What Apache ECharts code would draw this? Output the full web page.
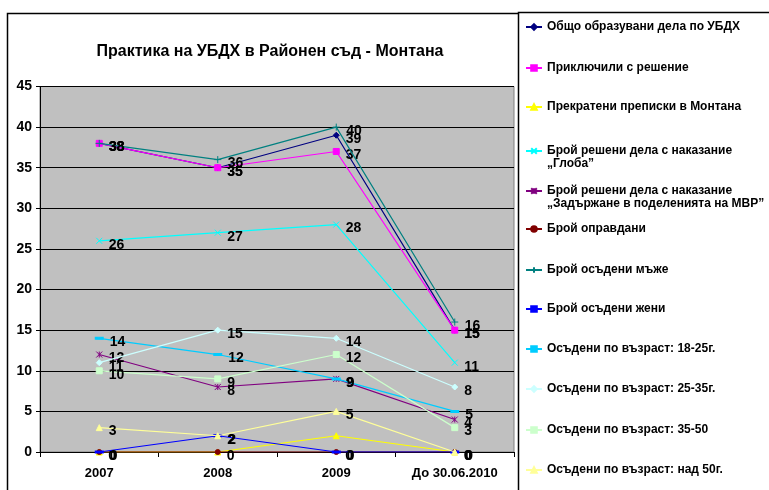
<!DOCTYPE html>
<html>
<head>
<meta charset="utf-8">
<script src="https://cdn.jsdelivr.net/npm/echarts@6/dist/echarts.min.js"></script>
<style>html,body{margin:0;padding:0;background:#fff}#c{width:769px;height:490px}</style>
</head>
<body>
<div id="c"></div>
<script>
const categories = ['2007', '2008', '2009', 'До 30.06.2010'];
const yTicks = [0, 5, 10, 15, 20, 25, 30, 35, 40, 45];
const seriesNames = [
  'Общо образувани дела по УБДХ',
  'Приключили с решение',
  'Прекратени преписки в Монтана',
  'Брой решени дела с наказание\n„Глоба”',
  'Брой решени дела с наказание\n„Задържане в поделенията на МВР”',
  'Брой оправдани',
  'Брой осъдени мъже',
  'Брой осъдени жени',
  'Осъдени по възраст: 18-25г.',
  'Осъдени по възраст: 25-35г.',
  'Осъдени по възраст: 35-50',
  'Осъдени по възраст: над 50г.'
];
const total = [38, 35, 39, 15];
const resolved = [38, 35, 37, 15];
const terminated = [0, 0, 2, 0];
const fined = [26, 27, 28, 11];
const detained = [12, 8, 9, 4];
const acquitted = [0, 0, 0, 0];
const men = [38, 36, 40, 16];
const women = [0, 2, 0, 0];
const age1825 = [14, 12, 9, 5];
const age2535 = [11, 15, 14, 8];
const age3550 = [10, 9, 12, 3];
const age50 = [3, 2, 5, 0];
const seriesValues = [total, resolved, terminated, fined, detained, acquitted, men, women, age1825, age2535, age3550, age50];

const colors = ['#000080', '#FF00FF', '#FFFF00', '#00FFFF', '#800080', '#800000', '#008080', '#0000FF', '#00CCFF', '#CCFFFF', '#CCFFCC', '#FFFF99'];
const symbols = [
  ['diamond', 6], ['rect', 6], ['triangle', 6],
  ['path://M0,0L10,10M10,0L0,10', 6],
  ['path://M0,0L10,10M10,0L0,10M5,0L5,10', 6],
  ['circle', 5],
  ['path://M5,0L5,10M0,5L10,5', 7],
  ['rect', [6, 2]], ['rect', [6, 2]],
  ['diamond', 6], ['rect', 6], ['triangle', 6]
];
const showLabels = [true, true, false, true, true, true, true, true, true, true, true, true];
const legendCenters = [27, 68, 107, 150, 190, 229, 270, 309, 349, 389, 430, 470];

const font = 'Liberation Sans, Arial, sans-serif';

const series = seriesNames.map((name, i) => ({
  name: name,
  type: 'line',
  data: seriesValues[i],
  symbol: symbols[i][0],
  symbolSize: symbols[i][1],
  showAllSymbol: true,
  lineStyle: { color: colors[i], width: 1.2 },
  itemStyle: { color: colors[i], borderColor: colors[i], borderWidth: 1 },
  emphasis: { disabled: true },
  label: {
    show: showLabels[i],
    position: 'right',
    distance: 6,
    offset: [0, 4],
    color: '#000',
    fontFamily: font,
    fontWeight: 'bold',
    fontSize: 14
  },
  z: 2 + i
}));

const legends = seriesNames.map((name, i) => {
  const twoLine = name.indexOf('\n') >= 0;
  return {
    data: [name],
    left: 525,
    top: twoLine ? legendCenters[i] - 18.5 : legendCenters[i] - 6.5,
    padding: 0,
    itemWidth: 16,
    itemHeight: 7,
    selectedMode: false,
    formatter: twoLine ? (n => '\u00a0\n' + n) : '{name}',
    textStyle: {
      fontFamily: font,
      fontWeight: 'bold',
      fontSize: 12,
      color: '#000',
      lineHeight: 13
    }
  };
});

const chart = echarts.init(document.getElementById('c'), null, { renderer: 'canvas' });
chart.setOption({
  animation: false,
  backgroundColor: '#fff',
  title: {
    text: 'Практика на УБДХ в Районен съд - Монтана',
    left: 265,
    textAlign: 'center',
    top: 39,
    textStyle: { fontFamily: font, fontWeight: 'bold', fontSize: 16, color: '#000' }
  },
  legend: legends,
  grid: {
    left: 40, right: 255, top: 86.5, bottom: 38,
    show: true, backgroundColor: '#C0C0C0', borderColor: '#808080', borderWidth: 1
  },
  xAxis: {
    type: 'category',
    data: categories,
    boundaryGap: true,
    axisLine: { lineStyle: { color: '#000', width: 1 } },
    axisTick: { show: true, length: 5, lineStyle: { color: '#000' } },
    axisLabel: { color: '#000', fontFamily: font, fontWeight: 'bold', fontSize: 13, margin: 15 },
    splitLine: { show: false }
  },
  yAxis: {
    type: 'value',
    min: yTicks[0], max: yTicks[yTicks.length - 1], interval: 5,
    axisLine: { show: true, lineStyle: { color: '#000', width: 1 } },
    axisTick: { show: true, length: 4, lineStyle: { color: '#000' } },
    axisLabel: { color: '#000', fontFamily: font, fontWeight: 'bold', fontSize: 14, margin: 8 },
    splitLine: { show: true, lineStyle: { color: '#000', width: 1 } }
  },
  graphic: [
    { type: 'rect', shape: { x: 7.5, y: 13.5, width: 513, height: 490 }, style: { fill: 'none', stroke: '#000', lineWidth: 1.5 }, z: 0, silent: true },
    { type: 'rect', shape: { x: 518.5, y: 12.5, width: 260, height: 490 }, style: { fill: '#fff', stroke: '#000', lineWidth: 1.5 }, z: 0, silent: true }
  ],
  series: series
});
</script>
</body>
</html>
